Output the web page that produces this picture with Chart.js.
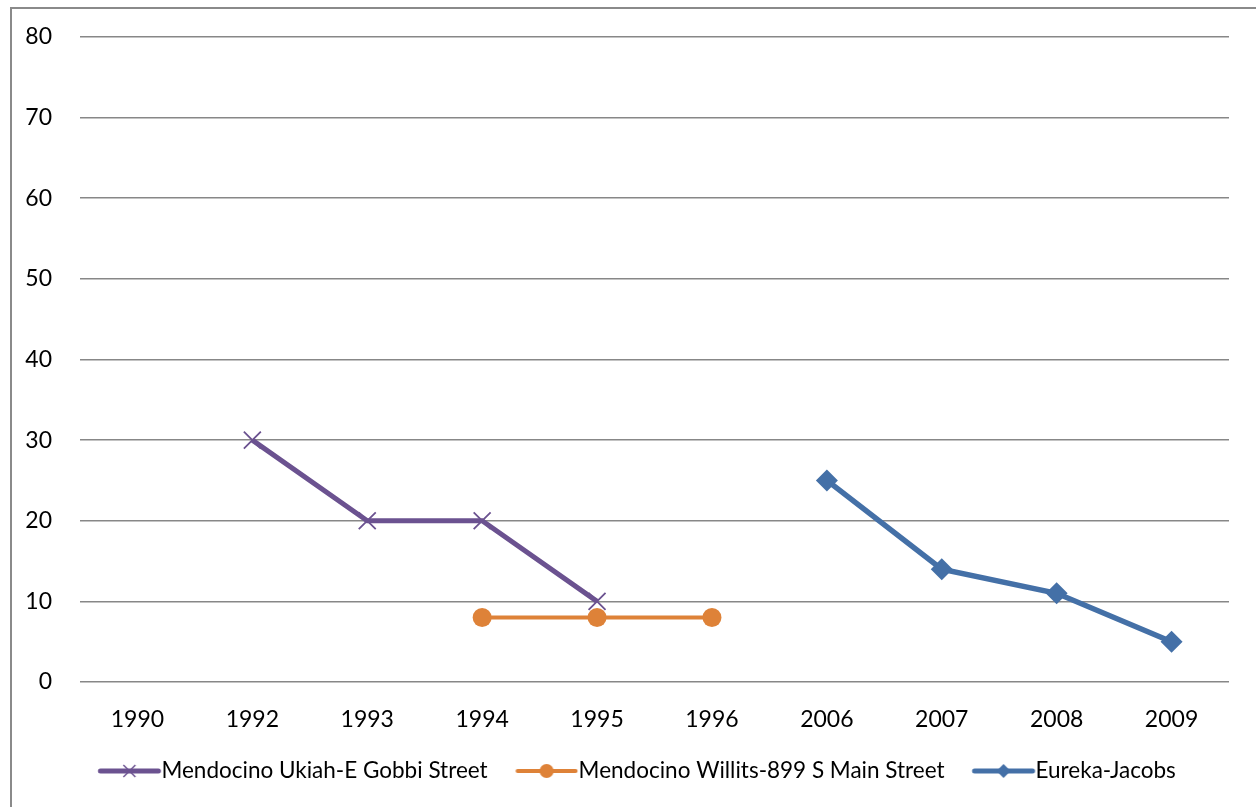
<!DOCTYPE html>
<html>
<head>
<meta charset="utf-8">
<script src="https://cdn.jsdelivr.net/npm/chart.js@4.4.1/dist/chart.umd.min.js"></script>
<style>
  html, body { margin: 0; padding: 0; background: #ffffff; }
  #wrap { width: 1256px; height: 807px; position: relative; }
</style>
</head>
<body>
<div id="wrap"><canvas id="chart" width="1256" height="807"></canvas></div>
<script>
// Sampling years (category axis)
const years = ['1990', '1992', '1993', '1994', '1995', '1996', '2006', '2007', '2008', '2009'];

// Measured values per site (null where the site has no reading)
const ukiahGobbi   = [null, 30, 20, 20, 10, null, null, null, null, null];
const willitsMain  = [null, null, null, 8, 8, 8, null, null, null, null];
const eurekaJacobs = [null, null, null, null, null, null, 25, 14, 11, 5];

const seriesNames = ['Mendocino Ukiah-E Gobbi Street', 'Mendocino Willits-899 S Main Street', 'Eureka-Jacobs'];

const yTicks = [0, 10, 20, 30, 40, 50, 60, 70, 80];

const PURPLE = '#6b5290';
const ORANGE = '#de8238';
const BLUE = '#4470a7';
const GRID = '#878787';
const FONT = 'Lato, "Open Sans", sans-serif';
const LEGEND_FONT_SIZE = 22.5;
const TICK_FONT_SIZE = 23;

// Line-plus-marker swatches for the legend (line runs from x=15.25 to x=73.25)
function swatch(color, lineW, marker) {
  const c = document.createElement('canvas');
  c.width = 78; c.height = 22;
  const g = c.getContext('2d');
  const x0 = 15.25, x1 = 73.25, cy = 11, cx = (x0 + x1) / 2;
  g.strokeStyle = color; g.fillStyle = color;
  g.lineCap = 'round';
  g.lineWidth = lineW;
  g.beginPath(); g.moveTo(x0, cy); g.lineTo(x1, cy); g.stroke();
  if (marker === 'x') {
    g.lineWidth = 1.5; g.lineCap = 'butt';
    g.beginPath();
    g.moveTo(cx - 6, cy - 6); g.lineTo(cx + 6, cy + 6);
    g.moveTo(cx + 6, cy - 6); g.lineTo(cx - 6, cy + 6);
    g.stroke();
  } else if (marker === 'circle') {
    g.beginPath(); g.arc(cx, cy, 7, 0, Math.PI * 2); g.fill();
  } else if (marker === 'diamond') {
    g.beginPath();
    g.moveTo(cx, cy - 7); g.lineTo(cx + 7, cy); g.lineTo(cx, cy + 7); g.lineTo(cx - 7, cy);
    g.closePath(); g.fill();
  }
  return c;
}

const legendSwatches = [
  swatch(PURPLE, 5, 'x'),
  swatch(ORANGE, 4, 'circle'),
  swatch(BLUE, 5, 'diamond')
];

// Outer frame of the chart object
const framePlugin = {
  id: 'frame',
  beforeDraw(chart) {
    const ctx = chart.ctx;
    ctx.save();
    ctx.fillStyle = '#ffffff';
    ctx.fillRect(0, 0, chart.width, chart.height);
    ctx.strokeStyle = '#8a8a8a';
    ctx.lineWidth = 2;
    ctx.strokeRect(11, 8, chart.width + 20, chart.height + 20);
    ctx.restore();
  }
};

// Nudge the legend row so it sits a little right of the canvas centre
const LEGEND_SHIFT = 22.5;
const legendShiftPlugin = {
  id: 'legendShift',
  afterLayout(chart) {
    const lg = chart.legend;
    if (lg) { lg.left += LEGEND_SHIFT; lg.right += LEGEND_SHIFT; }
  }
};

new Chart(document.getElementById('chart'), {
  type: 'line',
  data: {
    labels: years,
    datasets: [
      {
        label: seriesNames[0],
        data: ukiahGobbi,
        borderColor: PURPLE,
        backgroundColor: PURPLE,
        borderWidth: 5,
        pointStyle: 'crossRot',
        pointRadius: 12,
        pointBorderWidth: 1.8,
        pointBorderColor: PURPLE,
        spanGaps: false
      },
      {
        label: seriesNames[1],
        data: willitsMain,
        borderColor: ORANGE,
        backgroundColor: ORANGE,
        borderWidth: 4,
        pointStyle: 'circle',
        pointRadius: 9.5,
        pointBorderWidth: 0,
        spanGaps: false
      },
      {
        label: seriesNames[2],
        data: eurekaJacobs,
        borderColor: BLUE,
        backgroundColor: BLUE,
        borderWidth: 5.5,
        pointStyle: 'rectRot',
        pointRadius: 11,
        pointBorderWidth: 0,
        spanGaps: false
      }
    ]
  },
  options: {
    responsive: false,
    animation: false,
    devicePixelRatio: 1,
    layout: { padding: { left: 0, right: 27, top: 37, bottom: 14.75 } },
    plugins: {
      title: { display: false },
      tooltip: { enabled: false },
      legend: {
        display: true,
        position: 'bottom',
        labels: {
          usePointStyle: true,
          pointStyleWidth: 52,
          padding: 27.75,
          color: '#000000',
          font: { family: FONT, size: LEGEND_FONT_SIZE },
          generateLabels(chart) {
            return chart.data.datasets.map((ds, i) => ({
              text: ds.label,
              pointStyle: legendSwatches[i],
              fillStyle: ds.borderColor,
              strokeStyle: ds.borderColor,
              lineWidth: 0,
              hidden: false,
              datasetIndex: i,
              fontColor: '#000000'
            }));
          }
        }
      }
    },
    scales: {
      x: {
        offset: true,
        grid: { display: false, drawTicks: false },
        border: { display: false },
        ticks: {
          color: '#000000',
          font: { family: FONT, size: TICK_FONT_SIZE },
          padding: 24,
          maxRotation: 0,
          autoSkip: false
        },
        afterFit(scale) { scale.height = 50; }
      },
      y: {
        min: 0,
        max: 80,
        afterBuildTicks(scale) { scale.ticks = yTicks.map(v => ({ value: v })); },
        grid: { color: GRID, lineWidth: 1.6, drawTicks: false },
        border: { display: false },
        ticks: {
          color: '#000000',
          font: { family: FONT, size: TICK_FONT_SIZE },
          padding: 28
        },
        afterFit(scale) {
          scale.width = 80;
          scale.paddingTop = 0;
          scale.paddingBottom = 0;
        }
      }
    }
  },
  plugins: [framePlugin, legendShiftPlugin]
});
</script>
</body>
</html>
